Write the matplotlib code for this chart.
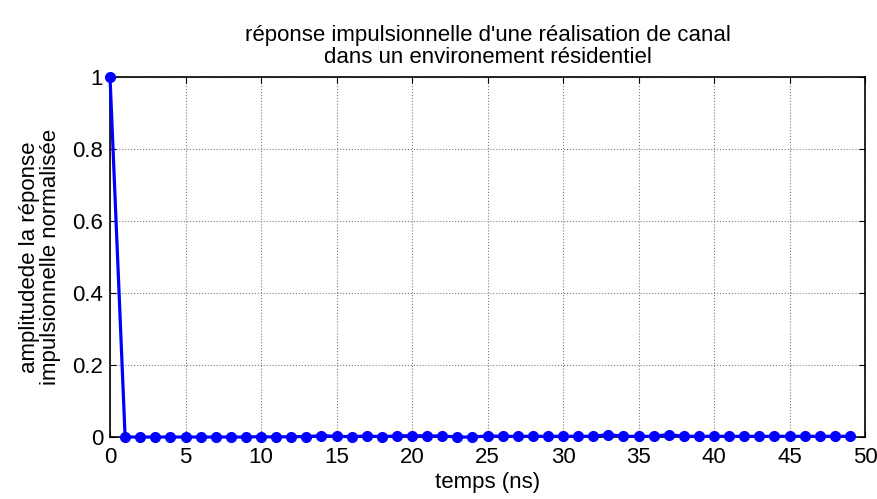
import matplotlib
matplotlib.use('Agg')
import matplotlib.pyplot as plt

plt.rcParams['font.family'] = ['Liberation Sans', 'DejaVu Sans']

# temps en ns et amplitude normalisee
temps_ns = list(range(50))
amplitude = [1.0, 0.0, 0.0, 0.0, 0.0, 0.0, 0.0, 0.0, 0.0, 0.0,
             0.001, 0.0, 0.001, 0.001, 0.004, 0.002, 0.001, 0.003, 0.001, 0.003,
             0.004, 0.003, 0.003, 0.0, 0.0, 0.003, 0.002, 0.002, 0.002, 0.002,
             0.002, 0.002, 0.002, 0.007, 0.002, 0.002, 0.002, 0.007, 0.002, 0.002,
             0.002, 0.002, 0.002, 0.002, 0.002, 0.002, 0.002, 0.002, 0.002, 0.002]

x_ticks = list(range(0, 51, 5))
y_ticks = [0, 0.2, 0.4, 0.6, 0.8, 1]
y_tick_labels = ['0', '0.2', '0.4', '0.6', '0.8', '1']

fig = plt.figure(figsize=(8.78, 4.99), dpi=100)
ax = fig.add_axes([0.1253, 0.1242, 0.8599, 0.7215])

ax.plot(temps_ns, amplitude, color='blue', linewidth=2.3,
        marker='o', markersize=7, clip_on=False, zorder=3)

ax.set_xlim(0, 50)
ax.set_ylim(0, 1)
ax.set_xticks(x_ticks)
ax.set_yticks(y_ticks)
ax.set_yticklabels(y_tick_labels)
ax.tick_params(direction='in', top=True, right=True, length=4,
               labelsize=16)
ax.tick_params(axis='x', pad=7)
ax.tick_params(axis='y', pad=5)
ax.grid(True, color='#808080', linestyle=':', linewidth=0.8)
for s in ax.spines.values():
    s.set_linewidth(1.2)

ax.set_xlabel('temps (ns)', fontsize=16, labelpad=3)
ax.set_ylabel('amplitudede la réponse\nimpulsionnelle normalisée',
              fontsize=16, labelpad=8, linespacing=1.0)
ax.set_title("réponse impulsionnelle d'une réalisation de canal\n"
             "dans un environement résidentiel", fontsize=16, pad=10,
             linespacing=1.1)

fig.savefig('out.png', dpi=100)
